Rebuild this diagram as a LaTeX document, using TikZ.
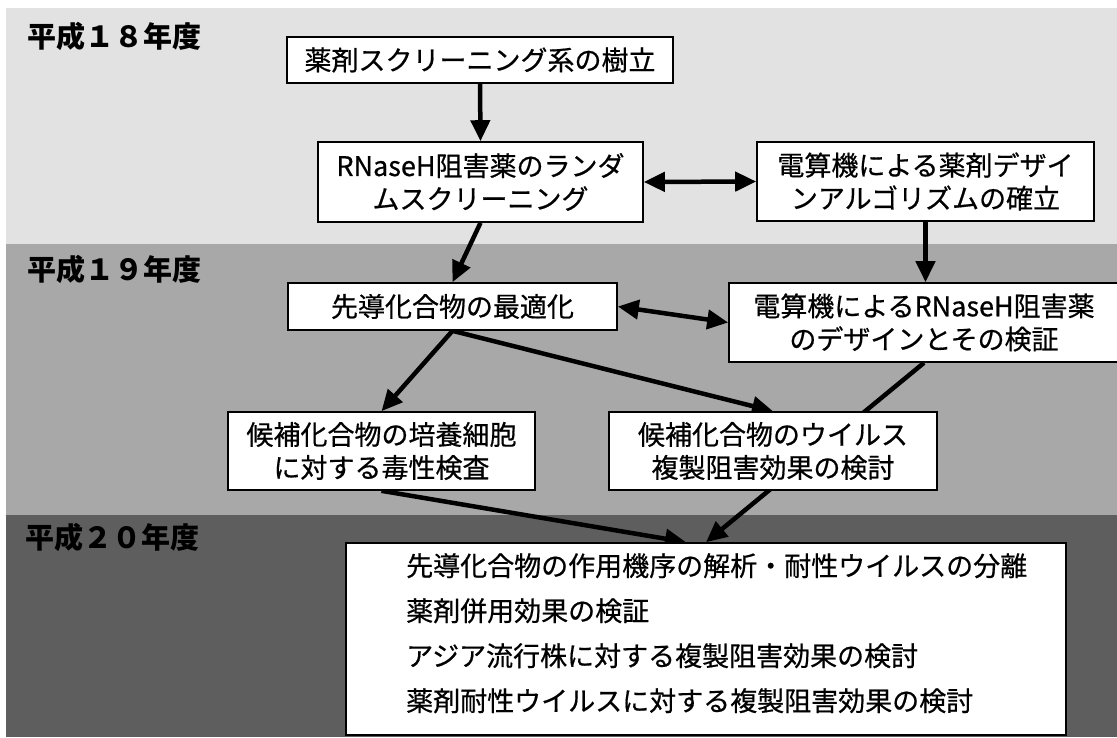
\documentclass[tikz,border=0pt]{standalone}
\usepackage{fontspec}
\setmainfont{Noto Sans CJK JP}
\newfontfamily\jpm{Noto Sans CJK JP}[FakeBold=0.6]
\usetikzlibrary{arrows.meta}
\pgfdeclarelayer{bands}
\pgfdeclarelayer{links}
\pgfsetlayers{bands,links,main}
\definecolor{bandA}{HTML}{E2E2E2}
\definecolor{bandB}{HTML}{A8A8A8}
\definecolor{bandC}{HTML}{5E5E5E}
\tikzset{
  box/.style={draw=black, line width=1.6pt, fill=white, inner sep=0pt, align=center,
    font=\jpm\fontsize{27}{33}\selectfont},
  yearlabel/.style={anchor=west, inner sep=0pt, font=\fontsize{29}{30}\selectfont\bfseries},
  link/.style={line width=4.5pt, -{Triangle[length=21pt,width=19pt]}},
  dlink/.style={line width=4.5pt, {Triangle[length=21pt,width=19pt]}-{Triangle[length=21pt,width=19pt]}},
}
\begin{document}
\begin{tikzpicture}[x=1pt,y=-1pt]
\useasboundingbox (0,0) rectangle (1117,737);
\begin{pgfonlayer}{bands}
  \fill[white] (0,0) rectangle (1117,737);
  \fill[bandA] (6,8) rectangle (1117,244);
  \fill[bandB] (6,244) rectangle (1117,515);
  \fill[bandC] (6,515) rectangle (1117,737);
\end{pgfonlayer}

\node[yearlabel] (y1) at (27,36) {平成１８年度};
\node[yearlabel] (y2) at (27,269) {平成１９年度};
\node[yearlabel] (y3) at (25,537) {平成２０年度};

\node[box, minimum width=386pt, minimum height=46pt] (b1) at (480,60) {薬剤スクリーニング系の樹立};
\node[box, minimum width=325pt, minimum height=80pt] (b2) at (480.5,182) {RNaseH阻害薬のランダ\\ムスクリーニング};
\node[box, minimum width=337pt, minimum height=79pt] (b3) at (925.5,181.5) {電算機による薬剤デザイ\\ンアルゴリズムの確立};
\node[box, minimum width=329pt, minimum height=47pt] (b4) at (452.5,306.5) {先導化合物の最適化};
\node[box, minimum width=390pt, minimum height=79pt] (b5) at (924,322.5) {電算機によるRNaseH阻害薬\\のデザインとその検証};
\node[box, minimum width=307pt, minimum height=78pt] (b8) at (381.5,451) {候補化合物の培養細胞\\に対する毒性検査};
\node[box, minimum width=328pt, minimum height=78pt] (b7) at (773,451) {候補化合物のウイルス\\複製阻害効果の検討};
\node[box, minimum width=720pt, minimum height=192pt] (b6) at (706,639) {};
\node[anchor=north west, inner sep=0pt, text width=660pt, align=left,
  font=\jpm\fontsize{27}{45}\selectfont] (t6) at (406,553)
  {先導化合物の作用機序の解析・耐性ウイルスの分離\\
   薬剤併用効果の検証\\
   アジア流行株に対する複製阻害効果の検討\\
   薬剤耐性ウイルスに対する複製阻害効果の検討};

\begin{pgfonlayer}{links}
  \draw[link] (b1.south) -- (b2.north);
  \draw[dlink] (b2.east) -- (b3.west);
  \draw[link] (b2.south) -- (b4.north);
  \draw[link] (b3.south) -- (b3.south |- b5.north);
  \draw[dlink] (b4.east) -- (b5.west);
  \draw[link] (b4.south) -- (b8.north);
  \draw[link] (b4.south) -- (b7.north);
  \draw[link] (b5.south) -- (b6.north);
  \coordinate (e6) at ([xshift=-20pt]b6.north);
  \draw[link] (b8.south) -- (e6);
\end{pgfonlayer}
\end{tikzpicture}
\end{document}
